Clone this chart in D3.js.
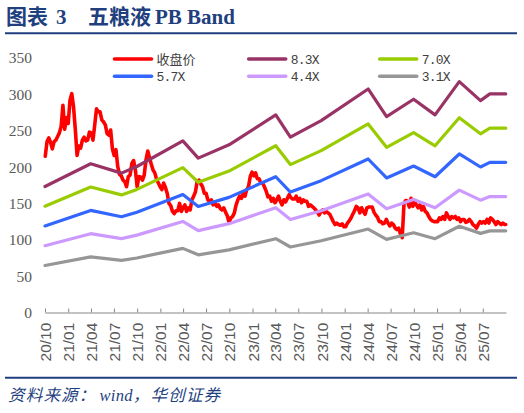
<!DOCTYPE html>
<html><head><meta charset="utf-8">
<script src="https://cdn.jsdelivr.net/npm/d3@7"></script>
<style>html,body{margin:0;padding:0;background:#fff}svg{display:block}</style>
</head><body>
<svg id="chart" width="524" height="413"></svg>
<script>
// ---------- data ----------
const titleParts = ["图表", "3", "五粮液", "PB Band"];
const sourceParts = ["资料来源：", "wind", "，华创证券"];

const seriesNames = ["收盘价", "8.3X", "7.0X", "5.7X", "4.4X", "3.1X"];
const seriesColors = ["#FF0000", "#993366", "#99CC00", "#3366FF", "#CC99FF", "#969696"];

const yTicks = [0, 50, 100, 150, 200, 250, 300, 350];
const xTickDates = ["2020-10-01","2021-01-01","2021-04-01","2021-07-01","2021-10-01","2022-01-01","2022-04-01","2022-07-01","2022-10-01","2023-01-01","2023-04-01","2023-07-01","2023-10-01","2024-01-01","2024-04-01","2024-07-01","2024-10-01","2025-01-01","2025-04-01","2025-07-01"];
const xTickLabels = ["20/10","21/01","21/04","21/07","21/10","22/01","22/04","22/07","22/10","23/01","23/04","23/07","23/10","24/01","24/04","24/07","24/10","25/01","25/04","25/07"];

const bandDates = ["2020-10-01","2021-03-31","2021-07-31","2021-09-30","2022-03-31","2022-05-31","2022-09-30","2023-04-03","2023-05-31","2023-09-30","2024-04-03","2024-06-15","2024-09-30","2024-12-24","2025-03-30","2025-06-22","2025-07-29","2025-09-30"];
const band83 = [173.3,204.5,191.7,200.8,236.1,212.3,230.6,271.8,241.1,263.9,307.4,269.4,293.3,271.8,317.5,291.4,300.6,300.6];
const band70 = [146.2,172.5,161.7,169.3,199.2,179.1,194.5,229.3,203.4,222.6,259.3,227.2,247.4,229.3,267.8,245.8,253.5,253.5];
const band57 = [119.0,140.4,131.7,137.9,162.2,145.8,158.3,186.7,165.6,181.3,211.1,185.0,201.4,186.7,218.0,200.1,206.5,206.5];
const band44 = [91.9,108.4,101.6,106.4,125.2,112.6,122.2,144.1,127.8,139.9,163.0,142.8,155.5,144.1,168.3,154.5,159.4,159.4];
const band31 = [64.7,76.4,71.6,75.0,88.2,79.3,86.1,101.5,90.1,98.6,114.8,100.6,109.6,101.5,118.6,108.8,112.3,112.3];

const priceData = [
["2020-10-02",215],["2020-10-09",235],["2020-10-16",240],["2020-10-23",234],["2020-10-30",225],
["2020-11-06",235],["2020-11-13",237],["2020-11-20",242],["2020-11-27",247],
["2020-12-04",256],["2020-12-11",285],["2020-12-18",252],["2020-12-25",268],
["2021-01-01",260],["2021-01-08",292],["2021-01-15",301],["2021-01-22",283],["2021-01-29",252],
["2021-02-05",216],["2021-02-12",229],["2021-02-19",226],["2021-02-26",237],
["2021-03-05",241],["2021-03-12",236],["2021-03-19",237],["2021-03-26",248],
["2021-04-02",247],["2021-04-09",237],["2021-04-16",258],["2021-04-23",280],["2021-04-30",276],
["2021-05-07",276],["2021-05-14",265],["2021-05-21",262],["2021-05-28",258],
["2021-06-04",246],["2021-06-11",244],["2021-06-18",251],["2021-06-25",225],
["2021-07-02",216],["2021-07-09",224],["2021-07-16",201],["2021-07-23",190],["2021-07-30",188],
["2021-08-06",182],["2021-08-13",180],["2021-08-20",173],["2021-08-27",187],
["2021-09-03",189],["2021-09-10",205],["2021-09-17",209],["2021-09-24",196],
["2021-10-01",173],["2021-10-08",187],["2021-10-15",186],["2021-10-22",182],["2021-10-29",189],
["2021-11-05",210],["2021-11-12",222],["2021-11-19",213],["2021-11-26",204],
["2021-12-03",196],["2021-12-10",192],["2021-12-17",183],["2021-12-24",178],["2021-12-31",173],
["2022-01-07",169],["2022-01-14",178],["2022-01-21",172],["2022-01-28",164],
["2022-02-04",150],["2022-02-11",147],["2022-02-18",139],["2022-02-25",136],
["2022-03-04",140],["2022-03-11",140],["2022-03-18",150],["2022-03-25",139],
["2022-04-01",144],["2022-04-08",148],["2022-04-15",139],["2022-04-22",144],["2022-04-29",141],
["2022-05-06",155],["2022-05-13",160],["2022-05-20",166],["2022-05-27",181],
["2022-06-03",182],["2022-06-10",177],["2022-06-17",173],["2022-06-24",164],
["2022-07-01",164],["2022-07-08",155],["2022-07-15",153],["2022-07-22",155],["2022-07-29",148],
["2022-08-05",151],["2022-08-12",146],["2022-08-19",148],["2022-08-26",143],
["2022-09-02",141],["2022-09-09",144],["2022-09-16",138],["2022-09-23",133],["2022-09-30",124],
["2022-10-07",130],["2022-10-14",132],["2022-10-21",137],["2022-10-28",148],
["2022-11-04",155],["2022-11-11",160],["2022-11-18",157],["2022-11-25",164],
["2022-12-02",160],["2022-12-09",169],["2022-12-16",173],["2022-12-23",187],["2022-12-30",193],
["2023-01-06",188],["2023-01-13",192],["2023-01-20",184],["2023-01-27",184],
["2023-02-03",178],["2023-02-10",178],["2023-02-17",173],["2023-02-24",167],
["2023-03-03",159],["2023-03-10",160],["2023-03-17",153],["2023-03-24",157],["2023-03-31",151],
["2023-04-07",155],["2023-04-14",160],["2023-04-21",153],["2023-04-28",148],
["2023-05-05",155],["2023-05-12",152],["2023-05-19",157],["2023-05-26",162],
["2023-06-02",158],["2023-06-09",156],["2023-06-16",156],["2023-06-23",160],["2023-06-30",153],
["2023-07-07",157],["2023-07-14",151],["2023-07-21",155],["2023-07-28",153],
["2023-08-04",153],["2023-08-11",146],["2023-08-18",148],["2023-08-25",146],
["2023-09-01",144],["2023-09-08",141],["2023-09-15",138],["2023-09-22",134],["2023-09-29",139],
["2023-10-06",141],["2023-10-13",137],["2023-10-20",139],["2023-10-27",137],
["2023-11-03",135],["2023-11-10",130],["2023-11-17",125],["2023-11-24",121],
["2023-12-01",123],["2023-12-08",121],["2023-12-15",120],["2023-12-22",122],["2023-12-29",118],
["2024-01-05",118],["2024-01-12",123],["2024-01-19",126],["2024-01-26",130],
["2024-02-02",135],["2024-02-09",140],["2024-02-16",146],["2024-02-23",144],
["2024-03-01",137],["2024-03-08",144],["2024-03-15",139],["2024-03-22",135],["2024-03-29",144],
["2024-04-05",145],["2024-04-12",145],["2024-04-19",145],["2024-04-26",138],
["2024-05-03",134],["2024-05-10",131],["2024-05-17",125],["2024-05-24",125],["2024-05-31",122],
["2024-06-07",123],["2024-06-14",128],["2024-06-21",123],["2024-06-28",119],
["2024-07-05",123],["2024-07-12",121],["2024-07-19",116],["2024-07-26",114],
["2024-08-02",116],["2024-08-09",108],["2024-08-16",103],["2024-08-23",150],["2024-08-30",154],
["2024-09-06",153],["2024-09-13",145],["2024-09-20",157],["2024-09-27",146],
["2024-10-04",153],["2024-10-11",148],["2024-10-18",144],["2024-10-25",148],
["2024-11-01",141],["2024-11-08",146],["2024-11-15",139],["2024-11-22",137],["2024-11-29",132],
["2024-12-06",128],["2024-12-13",126],["2024-12-20",125],["2024-12-27",125],
["2025-01-03",125],["2025-01-10",130],["2025-01-17",128],["2025-01-24",132],["2025-01-31",128],
["2025-02-07",137],["2025-02-14",132],["2025-02-21",128],["2025-02-28",132],
["2025-03-07",130],["2025-03-14",132],["2025-03-21",128],["2025-03-28",130],
["2025-04-04",125],["2025-04-11",128],["2025-04-18",128],["2025-04-25",124],
["2025-05-02",125],["2025-05-09",128],["2025-05-16",125],["2025-05-23",121],["2025-05-30",119],
["2025-06-06",116],["2025-06-13",121],["2025-06-20",125],["2025-06-27",123],
["2025-07-04",125],["2025-07-11",123],["2025-07-18",128],["2025-07-25",123],
["2025-08-01",130],["2025-08-08",128],["2025-08-15",125],["2025-08-22",121],["2025-08-29",125],
["2025-09-05",123],["2025-09-12",121],["2025-09-19",123],["2025-09-26",121],["2025-09-30",121]
];

// ---------- drawing ----------
const parse = d3.timeParse("%Y-%m-%d");
const svg = d3.select("#chart");
svg.append("rect").attr("width", 524).attr("height", 413).attr("fill", "#fff");

const navy = "#1F3F7F";

// title
const tt = svg.append("text").attr("y", 24).attr("fill", navy)
  .attr("font-weight", "bold").attr("font-size", 21)
  .attr("font-family", "'Liberation Serif','Noto Sans CJK SC',serif");
const titleX = [6, 56, 88, 155];
titleParts.forEach((p, i) => tt.append("tspan").attr("x", titleX[i]).text(p));
svg.append("line").attr("x1", 5).attr("x2", 517).attr("y1", 33.3).attr("y2", 33.3)
  .attr("stroke", navy).attr("stroke-width", 2);

// scales
const x = d3.scaleTime().domain([parse("2020-10-01"), parse("2025-10-01")]).range([45, 506]);
const y = d3.scaleLinear().domain([0, 350]).range([312.5, 58]);

// y axis labels
const yAxis = svg.append("g").attr("transform", "translate(45,0)")
  .call(d3.axisLeft(y).tickValues(yTicks).tickSize(0).tickPadding(13));
yAxis.select(".domain").remove();
yAxis.selectAll("text").attr("font-family", "'Liberation Serif',serif")
  .attr("font-size", 15.5).attr("fill", "#595959");

// x axis
const xAxis = svg.append("g").attr("transform", "translate(0,312.5)")
  .call(d3.axisBottom(x).tickValues(xTickDates.map(parse))
    .tickFormat((d, i) => xTickLabels[i]).tickSizeInner(-4).tickSizeOuter(0));
xAxis.select(".domain").attr("stroke", "#868686");
xAxis.selectAll(".tick line").attr("stroke", "#868686");
xAxis.selectAll("text")
  .attr("transform", "rotate(-90)")
  .attr("text-anchor", "end")
  .attr("x", -10.2).attr("y", 0).attr("dy", "0.36em")
  .attr("font-family", "'Liberation Sans',Arial,sans-serif")
  .attr("font-size", 15.5).attr("fill", "#595959");

// lines
const line = d3.line().x(d => x(d[0])).y(d => y(d[1])).curve(d3.curveLinear);

const priceSeries = priceData.map(d => [parse(d[0]), d[1]]);
svg.append("path").datum(priceSeries).attr("d", line)
  .attr("fill", "none").attr("stroke", seriesColors[0]).attr("stroke-width", 3.6)
  .attr("stroke-linejoin", "round").attr("stroke-linecap", "round");

const bands = [band83, band70, band57, band44, band31];
bands.forEach((vals, k) => {
  const pts = bandDates.map((d, i) => [parse(d), vals[i]]);
  svg.append("path").datum(pts).attr("d", line)
    .attr("fill", "none").attr("stroke", seriesColors[k + 1]).attr("stroke-width", 3.2)
    .attr("stroke-linejoin", "round").attr("stroke-linecap", "round");
});

// legend
const legCols = [112.5, 246.7, 377.7];
const legRows = [59, 76.3];
seriesNames.forEach((name, i) => {
  const cx = legCols[i % 3], cy = legRows[Math.floor(i / 3)];
  const g = svg.append("g");
  g.append("line").attr("x1", cx + 2).attr("x2", cx + 39).attr("y1", cy).attr("y2", cy)
    .attr("stroke", seriesColors[i]).attr("stroke-width", 3.6).attr("stroke-linecap", "round");
  const isCjk = /[\u4e00-\u9fff]/.test(name);
  g.append("text").attr("x", cx + 44).attr("y", cy).attr("dy", "0.36em")
    .attr("font-family", isCjk ? "'Noto Sans CJK SC',sans-serif" : "'Liberation Mono',monospace")
    .attr("font-size", 13).attr("letter-spacing", isCjk ? 0 : -0.8)
    .attr("fill", "#404040").text(name);
});

// footer
svg.append("line").attr("x1", 5).attr("x2", 517).attr("y1", 377.7).attr("y2", 377.7)
  .attr("stroke", navy).attr("stroke-width", 2);
const ft = svg.append("text").attr("x", 8).attr("y", 401).attr("fill", navy)
  .attr("font-style", "italic").attr("font-size", 16.5)
  .attr("font-family", "'Liberation Serif','Noto Sans CJK SC',serif");
sourceParts.forEach((p, i) => ft.append("tspan")
  .attr("letter-spacing", i === 1 ? 0.3 : 1.2).attr("dx", i === 1 ? 3 : 0).text(p));
</script>
</body></html>
